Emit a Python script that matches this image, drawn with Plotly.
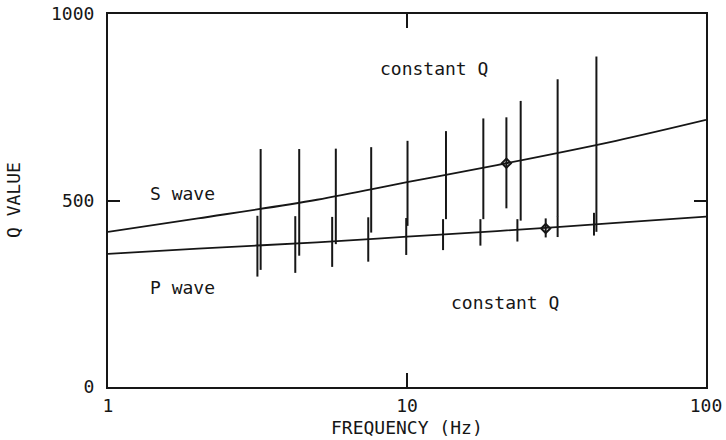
import plotly.graph_objects as go

# Model curves
curve_freq = [1, 2, 5, 10, 20, 50, 100]
s_wave_q = [416, 452, 502, 549, 595, 660, 716]
p_wave_q = [357, 371, 388, 403, 418, 440, 457]

# S-wave observation ranges
s_bar_freq = [3.24, 4.36, 5.78, 7.59, 10.04, 13.5, 18.0, 21.5, 24.0, 31.9, 43.0]
s_bar_top = [638, 638, 639, 643, 660, 686, 720, 723, 767, 825, 886]
s_bar_low = [314, 352, 383, 414, 432, 450, 450, 479, 446, 457, 416]

# P-wave observation ranges
p_bar_freq = [3.16, 4.23, 5.62, 7.42, 9.94, 13.2, 17.6, 23.4, 29.1, 31.9, 42.2]
p_bar_top = [459, 458, 456, 455, 453, 450, 450, 450, 452, 458, 467]
p_bar_low = [296, 306, 322, 336, 354, 367, 379, 390, 401, 402, 406]

# Single point estimates
marker_freq = [21.5, 29.1]
marker_q = [600, 425]

x_ticks = [1, 10, 100]
y_ticks = [0, 500, 1000]

INK = "#161616"
FONT = dict(family="DejaVu Sans Mono", size=18, color=INK)


def segments(freqs, lows, tops):
    xs, ys = [], []
    for f, lo, hi in zip(freqs, lows, tops):
        xs += [f, f, None]
        ys += [lo, hi, None]
    return xs, ys


fig = go.Figure()

for q in (s_wave_q, p_wave_q):
    fig.add_trace(go.Scatter(x=curve_freq, y=q, mode="lines",
                             line=dict(color=INK, width=1.8, shape="spline"),
                             showlegend=False, hoverinfo="skip"))

for fr, lo, hi in ((s_bar_freq, s_bar_low, s_bar_top), (p_bar_freq, p_bar_low, p_bar_top)):
    xs, ys = segments(fr, lo, hi)
    fig.add_trace(go.Scatter(x=xs, y=ys, mode="lines",
                             line=dict(color=INK, width=2),
                             showlegend=False, hoverinfo="skip"))

fig.add_trace(go.Scatter(x=marker_freq, y=marker_q, mode="markers",
                         marker=dict(symbol="diamond-open", size=7, color=INK,
                                     line=dict(color=INK, width=2)),
                         showlegend=False))

axis_common = dict(showline=True, linewidth=2, linecolor=INK, mirror="allticks",
                   ticks="inside", tickwidth=2, tickcolor=INK, showgrid=False,
                   zeroline=False, tickfont=FONT, automargin=False)

fig.update_xaxes(type="log", range=[0, 2], tickvals=x_ticks,
                 ticktext=[str(v) for v in x_ticks], ticklen=14,
                 ticklabelstandoff=1, **axis_common)
fig.update_yaxes(range=[0, 1000], tickvals=y_ticks,
                 ticktext=[str(v) for v in y_ticks], ticklen=12,
                 ticklabelstandoff=8, **axis_common)

notes = [
    ("constant Q", 1.089, 855),
    ("constant Q", 1.328, 226),
    ("S wave", 0.2475, 520),
    ("P wave", 0.2475, 268),
]
for text, lx, q in notes:
    fig.add_annotation(x=lx, y=q, xref="x", yref="y", text=text, showarrow=False,
                       font=FONT, xanchor="center", yanchor="middle")

fig.add_annotation(x=0.5, y=-0.108, xref="paper", yref="paper", text="FREQUENCY (Hz)",
                   showarrow=False, font=FONT, xanchor="center", yanchor="middle")
fig.add_annotation(x=-0.158, y=0.5, xref="paper", yref="paper", text="Q VALUE",
                   showarrow=False, font=FONT, textangle=-90,
                   xanchor="center", yanchor="middle")

fig.update_layout(width=726, height=440,
                  margin=dict(l=108, r=20, t=14, b=53),
                  plot_bgcolor="white", paper_bgcolor="white",
                  font=FONT)

fig.write_html("out.html")
